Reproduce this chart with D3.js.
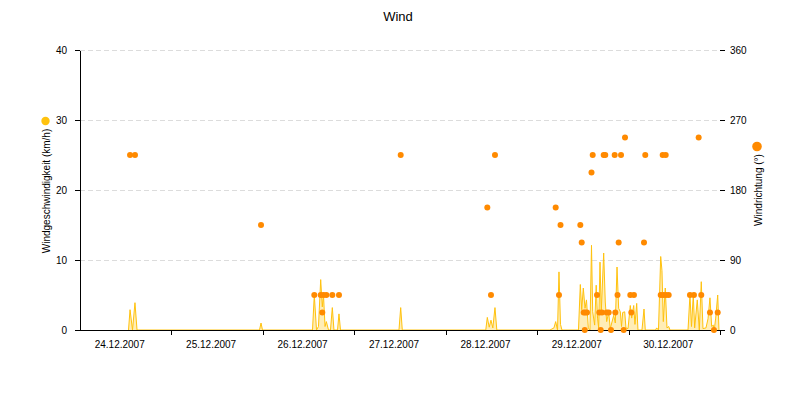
<!DOCTYPE html>
<meta charset="utf-8">
<head>
<style>
  body { margin: 0; background: #fff; }
  svg { font-family: "Liberation Sans", Arial, sans-serif; }
  .axis text { font-size: 10px; fill: #000; }
  .axis path, .axis line { stroke: #000; shape-rendering: crispEdges; }
  .grid line { stroke: #dcdcdc; stroke-dasharray: 5,3; shape-rendering: crispEdges; }
</style>
</head>
<body>
<script src="https://d3js.org/d3.v7.min.js"></script>
<script>

// wind speed readings (km/h)
var speed = [
  ["24.12.2007 12:44", 0], ["24.12.2007 13:08", 2.9], ["24.12.2007 13:47", 0], ["24.12.2007 14:26", 3.9], ["24.12.2007 14:58", 0],
  ["25.12.2007 23:07", 0], ["25.12.2007 23:31", 1.0], ["25.12.2007 23:54", 0],
  ["26.12.2007 13:02", 0], ["26.12.2007 13:30", 5.0], ["26.12.2007 14:05", 0], ["26.12.2007 14:36", 0.5], ["26.12.2007 15:11", 7.2],
  ["26.12.2007 15:36", 3.3], ["26.12.2007 15:55", 5.0], ["26.12.2007 16:19", 0.5], ["26.12.2007 16:40", 1.2], ["26.12.2007 17:14", 0],
  ["26.12.2007 17:45", 0], ["26.12.2007 18:14", 3.2], ["26.12.2007 18:40", 0], ["26.12.2007 19:36", 0], ["26.12.2007 19:59", 2.3],
  ["26.12.2007 20:23", 0],
  ["27.12.2007 11:44", 0], ["27.12.2007 12:11", 3.2], ["27.12.2007 12:36", 0],
  ["28.12.2007 10:31", 0], ["28.12.2007 10:55", 1.8], ["28.12.2007 11:25", 0.4], ["28.12.2007 11:53", 1.4], ["28.12.2007 12:22", 0.3],
  ["28.12.2007 12:56", 3.2], ["28.12.2007 13:25", 0],
  ["29.12.2007 03:22", 0], ["29.12.2007 04:25", 0.3], ["29.12.2007 04:52", 1.2], ["29.12.2007 05:21", 0], ["29.12.2007 05:44", 8.3],
  ["29.12.2007 06:08", 0.8], ["29.12.2007 06:31", 0], ["29.12.2007 10:51", 0], ["29.12.2007 11:20", 6.5], ["29.12.2007 11:42", 2.9],
  ["29.12.2007 12:07", 6.0], ["29.12.2007 12:34", 3.1], ["29.12.2007 12:57", 4.3], ["29.12.2007 13:26", 0.3], ["29.12.2007 13:52", 0],
  ["29.12.2007 14:16", 12.1], ["29.12.2007 14:35", 2.6], ["29.12.2007 15:06", 0.7], ["29.12.2007 15:30", 6.4], ["29.12.2007 15:51", 1.7],
  ["29.12.2007 16:09", 0.3], ["29.12.2007 16:30", 9.7], ["29.12.2007 16:50", 2.6], ["29.12.2007 17:28", 11.0], ["29.12.2007 17:53", 4.0],
  ["29.12.2007 18:15", 1.2], ["29.12.2007 18:47", 2.5], ["29.12.2007 19:12", 0.2], ["29.12.2007 20:06", 2.1], ["29.12.2007 20:31", 1.0],
  ["29.12.2007 20:58", 9.0], ["29.12.2007 21:24", 3.1], ["29.12.2007 21:50", 2.6], ["29.12.2007 22:09", 0.5], ["29.12.2007 22:27", 2.5],
  ["29.12.2007 22:59", 2.6], ["29.12.2007 23:19", 0.3], ["29.12.2007 23:51", 0.2],
  ["30.12.2007 00:27", 3.5], ["30.12.2007 00:49", 1.7], ["30.12.2007 01:21", 3.5], ["30.12.2007 01:41", 0.8], ["30.12.2007 02:08", 3.8],
  ["30.12.2007 02:28", 0], ["30.12.2007 03:31", 0], ["30.12.2007 04:03", 3.0], ["30.12.2007 04:23", 0], ["30.12.2007 07:04", 0],
  ["30.12.2007 07:23", 0.3], ["30.12.2007 07:51", 0], ["30.12.2007 08:26", 10.5], ["30.12.2007 08:46", 8.5], ["30.12.2007 09:07", 1.2],
  ["30.12.2007 09:38", 6.0], ["30.12.2007 10:05", 0.3], ["30.12.2007 10:32", 0.5], ["30.12.2007 10:52", 0], ["30.12.2007 15:36", 0],
  ["30.12.2007 16:07", 5.0], ["30.12.2007 16:31", 0.5], ["30.12.2007 16:59", 5.0], ["30.12.2007 17:21", 0.3], ["30.12.2007 18:02", 4.3],
  ["30.12.2007 18:34", 0], ["30.12.2007 19:05", 6.9], ["30.12.2007 19:32", 0.2], ["30.12.2007 20:19", 0.3], ["30.12.2007 20:51", 1.6],
  ["30.12.2007 21:22", 4.6], ["30.12.2007 21:49", 0.5], ["30.12.2007 22:14", 0.7], ["30.12.2007 22:30", 0], ["30.12.2007 22:52", 1.7],
  ["30.12.2007 23:24", 5.0], ["30.12.2007 23:44", 0]
];

// wind direction readings (degrees)
var direction = [
  ["24.12.2007 13:08", 225], ["24.12.2007 14:26", 225],
  ["25.12.2007 23:31", 135],
  ["26.12.2007 13:30", 45], ["26.12.2007 15:11", 45], ["26.12.2007 15:36", 22.5], ["26.12.2007 15:55", 45], ["26.12.2007 16:40", 45],
  ["26.12.2007 18:14", 45], ["26.12.2007 19:59", 45],
  ["27.12.2007 12:11", 225],
  ["28.12.2007 10:55", 157.5], ["28.12.2007 11:53", 45], ["28.12.2007 12:56", 225],
  ["29.12.2007 04:52", 157.5], ["29.12.2007 05:44", 45], ["29.12.2007 06:08", 135], ["29.12.2007 11:20", 135], ["29.12.2007 11:42", 112.5],
  ["29.12.2007 12:13", 22.5], ["29.12.2007 12:30", 0], ["29.12.2007 12:38", 22.5], ["29.12.2007 13:05", 22.5], ["29.12.2007 14:16", 202.5],
  ["29.12.2007 14:35", 225], ["29.12.2007 15:43", 45], ["29.12.2007 16:19", 22.5], ["29.12.2007 16:41", 0], ["29.12.2007 17:01", 22.5],
  ["29.12.2007 17:28", 225], ["29.12.2007 17:53", 225], ["29.12.2007 18:15", 22.5], ["29.12.2007 18:47", 22.5], ["29.12.2007 19:23", 0],
  ["29.12.2007 20:21", 225], ["29.12.2007 20:31", 22.5], ["29.12.2007 21:06", 45], ["29.12.2007 21:24", 112.5], ["29.12.2007 22:01", 225],
  ["29.12.2007 22:43", 0], ["29.12.2007 23:04", 247.5],
  ["30.12.2007 00:27", 45], ["30.12.2007 00:43", 22.5], ["30.12.2007 01:25", 45], ["30.12.2007 04:03", 112.5], ["30.12.2007 04:23", 225],
  ["30.12.2007 08:26", 45], ["30.12.2007 08:57", 225], ["30.12.2007 09:07", 45], ["30.12.2007 09:45", 225], ["30.12.2007 09:49", 45],
  ["30.12.2007 10:32", 45], ["30.12.2007 16:07", 45], ["30.12.2007 17:10", 45], ["30.12.2007 18:24", 247.5], ["30.12.2007 19:05", 45],
  ["30.12.2007 21:22", 22.5], ["30.12.2007 22:25", 0], ["30.12.2007 23:24", 22.5]
];

var dayLabels = ["24.12.2007", "25.12.2007", "26.12.2007", "27.12.2007", "28.12.2007", "29.12.2007", "30.12.2007"];
var speedTicks = [0, 10, 20, 30, 40];
var dirTicks = [0, 90, 180, 270, 360];

var margin = {top: 50, right: 80, bottom: 70, left: 80},
    width = 800 - margin.left - margin.right,
    height = 400 - margin.top - margin.bottom;

var parseTime = d3.timeParse("%d.%m.%Y %H:%M"),
    parseDay = d3.timeParse("%d.%m.%Y");

var speedColor = "#ffc20e",
    dirColor = "#ff8a00";

var days = dayLabels.map(parseDay);
var start = days[0],
    end = d3.timeDay.offset(days[days.length - 1], 1);

var x = d3.scaleTime().domain([start, end]).range([0, width]);
var ySpeed = d3.scaleLinear().domain([0, 40]).range([height, 0]);
var yDir = d3.scaleLinear().domain([0, 360]).range([height, 0]);

var svg = d3.select("body").append("svg")
    .attr("width", 800)
    .attr("height", 400);

svg.append("text")
    .attr("x", 398)
    .attr("y", 21)
    .attr("text-anchor", "middle")
    .style("font-size", "13px")
    .text("Wind");

var g = svg.append("g")
    .attr("transform", "translate(" + margin.left + "," + margin.top + ")");

// dashed grid
g.append("g").attr("class", "grid")
  .selectAll("line")
    .data(speedTicks.filter(function(d) { return d > 0; }))
  .enter().append("line")
    .attr("x1", 0).attr("x2", width)
    .attr("y1", function(d) { return ySpeed(d); })
    .attr("y2", function(d) { return ySpeed(d); });

var speedData = speed.map(function(d) { return {t: parseTime(d[0]), v: d[1]}; });
var dirData = direction.map(function(d) { return {t: parseTime(d[0]), v: d[1]}; });

var area = d3.area()
    .x(function(d) { return x(d.t); })
    .y0(height)
    .y1(function(d) { return ySpeed(d.v); });

var line = d3.line()
    .x(function(d) { return x(d.t); })
    .y(function(d) { return ySpeed(d.v); });

g.append("path")
    .datum(speedData)
    .attr("fill", speedColor)
    .attr("fill-opacity", 0.3)
    .attr("d", area);

g.append("path")
    .datum(speedData)
    .attr("fill", "none")
    .attr("stroke", speedColor)
    .attr("stroke-width", 1)
    .attr("d", line);

// axes
g.append("g")
    .attr("class", "axis")
    .call(d3.axisLeft(ySpeed).tickValues(speedTicks).tickSize(5).tickSizeOuter(0).tickPadding(8));

var right = g.append("g")
    .attr("class", "axis")
    .attr("transform", "translate(" + width + ",0)")
    .call(d3.axisRight(yDir).tickValues(dirTicks).tickSize(5).tickSizeOuter(0).tickPadding(5));
right.select(".domain").remove();

g.append("g")
    .attr("class", "axis")
    .attr("transform", "translate(0," + height + ")")
    .call(d3.axisBottom(x).tickValues(days.slice(1).concat([end])).tickSize(5).tickSizeOuter(0).tickFormat(""));

g.append("g")
    .attr("class", "axis")
  .selectAll("text")
    .data(days)
  .enter().append("text")
    .attr("x", function(d) { return x(d3.timeHour.offset(d, 12)) - 6; })
    .attr("y", height + 18)
    .attr("text-anchor", "middle")
    .text(function(d, i) { return dayLabels[i]; });

// direction points
g.selectAll(".dot")
    .data(dirData)
  .enter().append("circle")
    .attr("class", "dot")
    .attr("cx", function(d) { return x(d.t); })
    .attr("cy", function(d) { return yDir(d.v); })
    .attr("r", 3)
    .attr("fill", dirColor);

// axis titles with legend markers
svg.append("text")
    .attr("transform", "translate(50,191) rotate(-90)")
    .attr("text-anchor", "middle")
    .style("font-size", "10px")
    .text("Windgeschwindigkeit (km/h)");

svg.append("circle")
    .attr("cx", 45.5).attr("cy", 121).attr("r", 4.2)
    .attr("fill", speedColor);

svg.append("text")
    .attr("transform", "translate(762,190) rotate(-90)")
    .attr("text-anchor", "middle")
    .style("font-size", "10px")
    .text("Windrichtung (°)");

svg.append("circle")
    .attr("cx", 757).attr("cy", 146.5).attr("r", 4.8)
    .attr("fill", dirColor);

</script>
</body>
